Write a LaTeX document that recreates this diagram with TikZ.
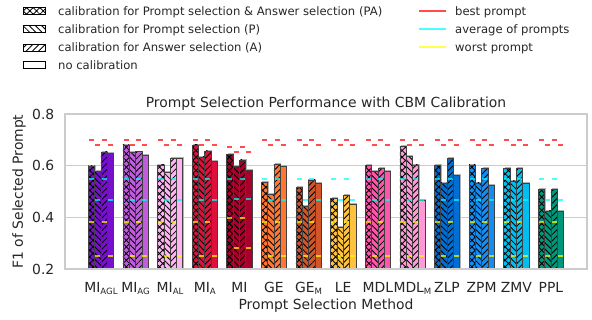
\documentclass[tikz,border=0pt]{standalone}
\usepackage{fontspec}
\setmainfont{DejaVu Sans}
\usetikzlibrary{patterns.meta}
\definecolor{txtc}{HTML}{262626}
\definecolor{mkred}{rgb}{1,0,0}
\definecolor{mkcyan}{rgb}{0,1,1}
\definecolor{mkyel}{rgb}{1,1,0}
\definecolor{cA}{HTML}{7710CC}
\definecolor{cB}{HTML}{BF5DDD}
\definecolor{cC}{HTML}{FFB3F0}
\definecolor{cD}{HTML}{E0103C}
\definecolor{cE}{HTML}{A8002A}
\definecolor{cF}{HTML}{FF7733}
\definecolor{cG}{HTML}{D2552A}
\definecolor{cH}{HTML}{FFC23C}
\definecolor{cI}{HTML}{FF55AA}
\definecolor{cJ}{HTML}{FF99D5}
\definecolor{cK}{HTML}{006ED2}
\definecolor{cL}{HTML}{148CF0}
\definecolor{cM}{HTML}{00BEF0}
\definecolor{cN}{HTML}{00967A}
\newcommand{\lowtxt}[1]{\raisebox{-1.8pt}{\fontsize{8.6pt}{10pt}\selectfont #1}}
\newcommand{\mybar}[4]{%
  \fill[shadowc] ([xshift=0.9pt]#1,0.2) rectangle ([xshift=0.9pt,yshift=1.2pt]#1+0.182,#2);
  \draw[baredge,preaction={fill=#3},#4] (#1,0.2) rectangle (#1+0.182,#2);}
\newcommand{\mymk}[3]{\draw[#3] (#1-0.0725,#2) -- (#1+0.0725,#2);}
\begin{document}
\begin{tikzpicture}[x=1pt,y=1pt,
  txt/.style={font=\fontsize{13.9pt}{16pt}\selectfont, text=txtc, inner sep=0pt},
  legtxt/.style={font=\fontsize{11.6pt}{14pt}\selectfont, text=txtc, inner sep=0pt},
  gridln/.style={draw=gray!40, line width=0.9pt},
  spine/.style={draw=gray!40, line width=1.4pt},
  baredge/.style={draw=black!75, line width=0.6pt},
  shadowc/.style={fill=black!30},
  hPA/.style={pattern={Hatch[angle=45,distance=4.7pt,line width=0.85pt]}, pattern color=black},
  hP/.style={pattern={Lines[angle=-45,distance=4.4pt,line width=0.85pt]}, pattern color=black},
  hA/.style={pattern={Lines[angle=45,distance=4.4pt,line width=0.85pt]}, pattern color=black},
  hN/.style={},
  redmk/.style={draw=mkred, draw opacity=0.7, line width=2pt},
  cyanmk/.style={draw=mkcyan, draw opacity=0.7, line width=2pt},
  yelmk/.style={draw=mkyel, draw opacity=0.7, line width=2pt},
  legbox/.style={draw=black, line width=0.6pt, fill=white},
]
\useasboundingbox (0,0) rectangle (592,320);
\fill[white] (0,0) rectangle (592,320);
% grid
\draw[gridln] (65,102.67) -- (587,102.67);
\draw[gridln] (65,154.33) -- (587,154.33);
% data
\begin{scope}[x=34.615pt, y=258.33pt, shift={(88.3pt,-0.667pt)}]
\foreach \i/\col/\va/\vb/\vc/\vd/\ra/\rb/\ca/\cb/\ya/\yb in {
  0/cA/0.599/0.577/0.653/0.648/0.700/0.681/0.548/0.468/0.382/0.251,
  1/cB/0.680/0.652/0.654/0.641/0.700/0.681/0.548/0.468/0.382/0.251,
  2/cC/0.603/0.573/0.628/0.628/0.700/0.681/0.548/0.468/0.382/0.251,
  3/cD/0.680/0.634/0.657/0.618/0.700/0.681/0.548/0.468/0.382/0.251,
  4/cE/0.645/0.598/0.622/0.583/0.672/0.653/0.548/0.472/0.397/0.283,
  5/cF/0.536/0.489/0.606/0.596/0.700/0.681/0.548/0.468/0.382/0.251,
  6/cG/0.516/0.444/0.545/0.532/0.700/0.681/0.548/0.468/0.382/0.251,
  7/cH/0.474/0.361/0.486/0.450/0.700/0.681/0.548/0.468/0.382/0.251,
  8/cI/0.601/0.579/0.590/0.579/0.700/0.681/0.548/0.468/0.382/0.251,
  9/cJ/0.675/0.635/0.603/0.467/0.700/0.681/0.548/0.468/0.382/0.251,
  10/cK/0.601/0.533/0.627/0.564/0.700/0.681/0.548/0.468/0.382/0.251,
  11/cL/0.603/0.533/0.590/0.525/0.700/0.681/0.548/0.468/0.382/0.251,
  12/cM/0.590/0.541/0.590/0.533/0.700/0.681/0.548/0.468/0.382/0.251,
  13/cN/0.508/0.425/0.508/0.425/0.700/0.681/0.548/0.468/0.382/0.251}{
  \pgfmathsetmacro\xa{\i}
  \pgfmathsetmacro\xb{\i+0.182}
  \pgfmathsetmacro\xc{\i+0.364}
  \pgfmathsetmacro\xd{\i+0.546}
  \mybar{\xa}{\va}{\col}{hPA}
  \mybar{\xb}{\vb}{\col}{hP}
  \mybar{\xc}{\vc}{\col}{hA}
  \mybar{\xd}{\vd}{\col}{hN}
  \mymk{\xa+0.091}{\ra}{redmk}
  \mymk{\xb+0.091}{\rb}{redmk}
  \mymk{\xc+0.091}{\ra}{redmk}
  \mymk{\xd+0.091}{\rb}{redmk}
  \mymk{\xa+0.091}{\ca}{cyanmk}
  \mymk{\xb+0.091}{\cb}{cyanmk}
  \mymk{\xc+0.091}{\ca}{cyanmk}
  \mymk{\xd+0.091}{\cb}{cyanmk}
  \mymk{\xa+0.091}{\ya}{yelmk}
  \mymk{\xb+0.091}{\yb}{yelmk}
  \mymk{\xc+0.091}{\ya}{yelmk}
  \mymk{\xd+0.091}{\yb}{yelmk}
}
\foreach \i/\lab in {0/MI\lowtxt{AGL},1/MI\lowtxt{AG},2/MI\lowtxt{AL},3/MI\lowtxt{A},4/MI,
  5/GE,6/GE\lowtxt{M},7/LE,8/MDL,9/MDL\lowtxt{M},10/ZLP,11/ZPM,12/ZMV,13/PPL}{
  \node[txt, anchor=base] (t\i) at ([yshift=-24pt]\i+0.364,0.2) {\lab};
}
\end{scope}
% frame
\draw[spine] (65,51) rectangle (587,206);
% y ticks
\node[txt, anchor=east] (y8) at (54.5,206) {0.8};
\node[txt, anchor=east] (y6) at (54.5,154.33) {0.6};
\node[txt, anchor=east] (y4) at (54.5,102.67) {0.4};
\node[txt, anchor=east] (y2) at (54.5,51) {0.2};
% labels
\node[txt, anchor=base] (title) at (326,212.5) {Prompt Selection Performance with CBM Calibration};
\node[txt, anchor=base] (xlab) at (326,10) {Prompt Selection Method};
\node[txt, anchor=base, rotate=90] (ylab) at (23,128.5) {F1 of Selected Prompt};
% legend left
\path[legbox, hPA, preaction={fill=white}] (23,305.5) rectangle (45,312.5);
\draw[black, line width=0.6pt] (23,305.5) rectangle (45,312.5);
\path[legbox, hP, preaction={fill=white}] (23,287.2) rectangle (45,294.2);
\draw[black, line width=0.6pt] (23,287.2) rectangle (45,294.2);
\path[legbox, hA, preaction={fill=white}] (23,268.8) rectangle (45,275.8);
\draw[black, line width=0.6pt] (23,268.8) rectangle (45,275.8);
\draw[legbox] (23,251.2) rectangle (45,258.2);
\node[legtxt, anchor=base west] (l1) at (58,304.7) {calibration for Prompt selection \& Answer selection (PA)};
\node[legtxt, anchor=base west] (l2) at (58,286.4) {calibration for Prompt selection (P)};
\node[legtxt, anchor=base west] (l3) at (58,268) {calibration for Answer selection (A)};
\node[legtxt, anchor=base west] (l4) at (58,250.4) {no calibration};
% legend right
\coordinate (r1a) at (419,309); \coordinate (r1b) at (446,309);
\coordinate (r2a) at (419,291); \coordinate (r2b) at (446,291);
\coordinate (r3a) at (419,273); \coordinate (r3b) at (446,273);
\draw[redmk] (r1a) -- (r1b);
\draw[cyanmk] (r2a) -- (r2b);
\draw[yelmk] (r3a) -- (r3b);
\node[legtxt, anchor=base west] (r1) at (455,304.7) {best prompt};
\node[legtxt, anchor=base west] (r2) at (455,286.7) {average of prompts};
\node[legtxt, anchor=base west] (r3) at (455,268.7) {worst prompt};
\end{tikzpicture}
\end{document}
